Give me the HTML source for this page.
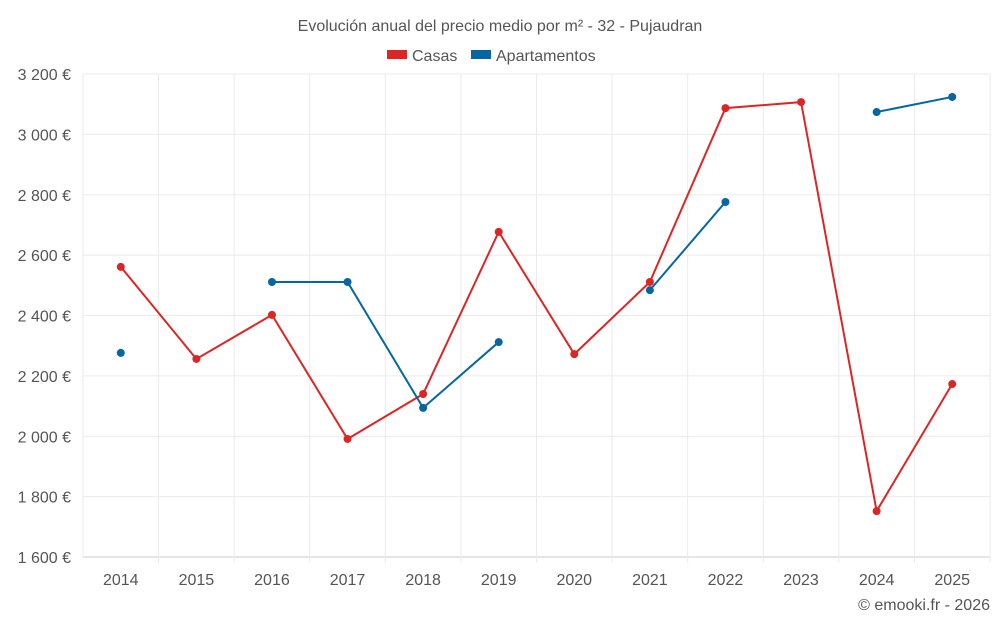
<!DOCTYPE html>
<html><head><meta charset="utf-8"><style>
body{margin:0;background:#fff;font-family:"Liberation Sans",sans-serif}
svg text{font-family:"Liberation Sans",sans-serif}
</style></head><body>
<svg id="c" width="1000" height="625">
<text x="500" y="31" text-anchor="middle" font-size="16" fill="#555">Evolución anual del precio medio por m² - 32 - Pujaudran</text>
<g>
<g><rect x="387" y="50" width="20" height="9" fill="#dc2626"/><text x="412" y="61" font-size="16" fill="#555">Casas</text></g>
<g><rect x="471" y="50" width="20" height="9" fill="#0666a0"/><text x="496" y="61" font-size="16" fill="#555">Apartamentos</text></g>
</g>
<g id="grid"></g><g id="axes"></g><g id="series"></g>
<text x="990" y="610" text-anchor="end" font-size="16" fill="#555">© emooki.fr - 2026</text>
</svg>
<script>
const years=[2014,2015,2016,2017,2018,2019,2020,2021,2022,2023,2024,2025];
const casas=[2561,2256,2402,1991,2140,2677,2272,2511,3087,3107,1752,2173];
const apartamentos=[2276,null,2511,2511,2094,2312,null,2484,2776,null,3074,3124];
const yTicks=[1600,1800,2000,2200,2400,2600,2800,3000,3200];
const L=83,R=990,T=74,B=557,yMin=1600,yMax=3200;
const step=(R-L)/years.length;
const xs=i=>L+step*(i+0.5);
const ys=v=>B-(v-yMin)/(yMax-yMin)*(B-T);
const ns="http://www.w3.org/2000/svg";
function mk(tag,attrs,parent){const e=document.createElementNS(ns,tag);for(const k in attrs)e.setAttribute(k,attrs[k]);document.getElementById(parent).appendChild(e);return e;}
const fmt=v=>String(v).replace(/\B(?=(\d{3})+$)/,' ')+' €';
yTicks.forEach(v=>{
 const g=mk('line',{x1:L,x2:R,y1:ys(v),y2:ys(v),stroke:v===yMin?'#ccc':'#ebebeb'},'grid');
 
 
 const t=mk('text',{x:L-12,y:ys(v)+6,'text-anchor':'end','font-size':16,fill:'#555'},'axes');t.textContent=fmt(v);
 
 
});
for(let i=0;i<=years.length;i++){
 const x=L+step*i;
 const g=mk('line',{x1:x,x2:x,y1:T,y2:B+(i>0?6:0),stroke:'#ebebeb'},'grid');
 
 
}
years.forEach((y,i)=>{
 const t=mk('text',{x:xs(i),y:585,'text-anchor':'middle','font-size':16,fill:'#555'},'axes');t.textContent=y;
 
 
});
function draw(data,color,name){
 let segs=[],cur=[];
 data.forEach((v,i)=>{if(v==null){if(cur.length)segs.push(cur);cur=[];}else cur.push([xs(i),ys(v)]);});
 if(cur.length)segs.push(cur);
 segs.forEach(s=>{if(s.length>1){const p=mk('polyline',{points:s.map(q=>q.join(',')).join(' '),fill:'none',stroke:color,'stroke-width':2},'series');
  
  }});
 data.forEach((v,i)=>{if(v==null)return;const c=mk('circle',{cx:xs(i),cy:ys(v),r:4,fill:color},'series');
  
  });
}
draw(casas,'#dc2626','casas');
draw(apartamentos,'#0666a0','apartamentos');
</script>
</body></html>
